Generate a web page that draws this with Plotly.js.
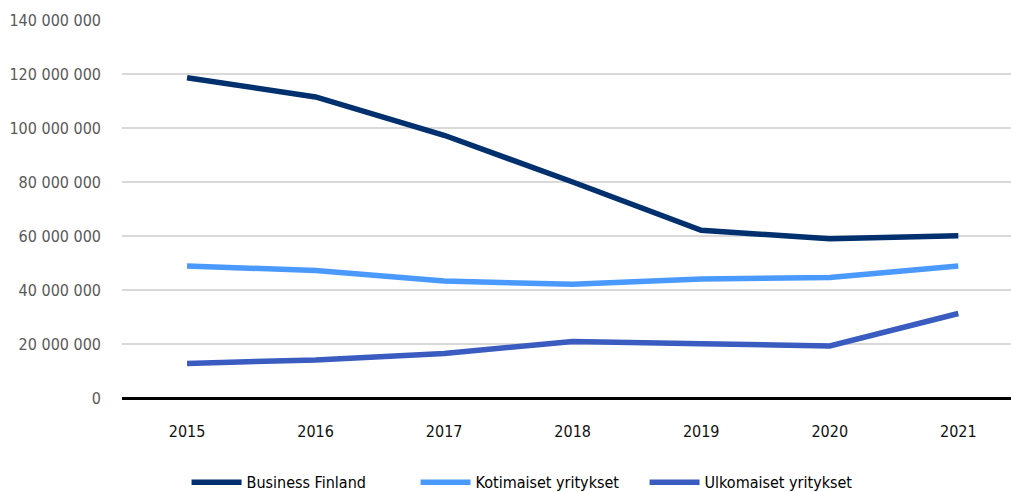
<!DOCTYPE html>
<html><head><meta charset="utf-8">
<script src="https://cdn.plot.ly/plotly-3.0.1.min.js"></script>
<style>html,body{margin:0;padding:0;background:#fff}#chart{width:1011px;height:492px}</style>
</head><body><div id="chart"></div>
<script>
const years = ["2015","2016","2017","2018","2019","2020","2021"];
const businessFinland = [118600000, 111500000, 97300000, 80000000, 62100000, 59000000, 60100000];
const kotimaiset = [48900000, 47200000, 43300000, 42100000, 44100000, 44600000, 48900000];
const ulkomaiset = [12800000, 14100000, 16500000, 20900000, 20100000, 19300000, 31300000];
const yTicks = [0, 20000000, 40000000, 60000000, 80000000, 100000000, 120000000, 140000000];

const FONT = "'DejaVu Sans Condensed', 'Liberation Sans Narrow', sans-serif";
const mk = (name, y, color) => ({x: years, y: y, name: name, type: 'scatter', mode: 'lines',
  line: {color: color, width: 5.5, shape: 'linear'}});
const data = [
  mk('Business Finland', businessFinland, '#01306e'),
  mk('Kotimaiset yritykset', kotimaiset, '#4a99ff'),
  mk('Ulkomaiset yritykset', ulkomaiset, '#3a5bbf')
];
const layout = {
  width: 1011, height: 492,
  margin: {l: 122, r: 0, t: 19.5, b: 94, autoexpand: false},
  paper_bgcolor: '#fff', plot_bgcolor: '#fff',
  separators: '. ',
  font: {family: FONT, size: 16, color: '#000'},
  showlegend: true,
  legend: {orientation: 'h', x: 0.459, xanchor: 'center', y: -0.178, yanchor: 'top',
    font: {family: FONT, size: 16, color: '#000'}, entrywidth: 164, itemwidth: 50},
  xaxis: {type: 'category', range: [-0.506, 6.41], showgrid: false, zeroline: false,
    showline: false, ticks: '', ticklabelstandoff: 22, tickfont: {family: FONT, size: 16, color: '#111'}},
  yaxis: {range: [0, 140000000], tickvals: yTicks, tickformat: ',d', showgrid: true,
    gridcolor: '#d9d9d9', gridwidth: 1.5, zeroline: true, zerolinecolor: '#000', zerolinewidth: 3,
    ticks: '', ticklabelstandoff: 20, tickfont: {family: FONT, size: 16, color: '#595959'}}
};
Plotly.newPlot('chart', data, layout, {displayModeBar: false, staticPlot: true});
</script></body></html>
